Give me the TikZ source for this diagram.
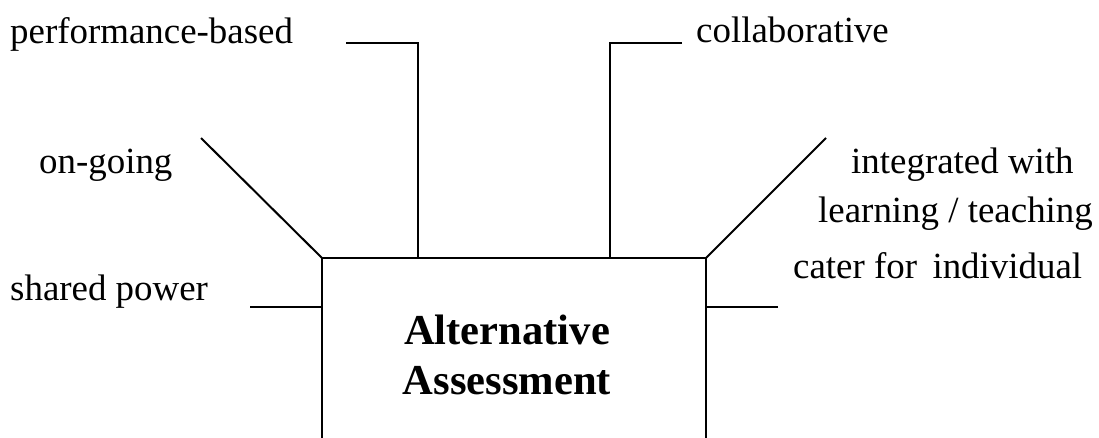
\documentclass[tikz,border=0pt]{standalone}
\usepackage{fontspec}
\setmainfont{Liberation Serif}
\begin{document}
\begin{tikzpicture}[x=1pt,y=-1pt,
  lbl/.style={anchor=base west,inner sep=0pt,font=\fontsize{36.9}{44}\selectfont},
  ttl/.style={anchor=base,inner sep=0pt,font=\fontsize{42.6}{50}\selectfont\bfseries},
  ln/.style={line width=2pt,line cap=butt,line join=miter}]
\useasboundingbox (0,0) rectangle (1099,437);
% box corners
\coordinate (bl) at (322,438);
\coordinate (tl) at (322,258);
\coordinate (tr) at (706,258);
\coordinate (br) at (706,438);
\draw[ln] (bl) -- (tl) -- (tr) -- (br);
% title
\node[ttl] (t1) at (507,344) {Alternative};
\node[ttl] (t2) at (507,394) {Assessment};
% labels
\node[lbl] (perf) at (10,43) {performance-based};
\node[lbl] (coll) at (696,42) {collaborative};
\node[lbl] (ongo) at (39,173) {on-going};
\node[lbl] (int1) at (851,173) {integrated with};
\node[lbl] (int2) at (818,222) {learning / teaching};
\node[lbl] (shar) at (10,300) {shared power};
\node[lbl] (cate) at (793,278) {cater for\, individual};
% connector points
\coordinate (p1) at (346,43);
\coordinate (p2) at (418,43);
\coordinate (p3) at (418,258);
\coordinate (c1) at (682,43);
\coordinate (c2) at (610,43);
\coordinate (c3) at (610,258);
\coordinate (o1) at (201,138);
\coordinate (i1) at (826,138);
\coordinate (s1) at (250,307);
\coordinate (s2) at (322,307);
\coordinate (r1) at (778,307);
\coordinate (r2) at (706,307);
\draw[ln] (p1) -- (p2) -- (p3);
\draw[ln] (c1) -- (c2) -- (c3);
\draw[ln] (o1) -- (tl);
\draw[ln] (i1) -- (tr);
\draw[ln] (s1) -- (s2);
\draw[ln] (r1) -- (r2);
\end{tikzpicture}
\end{document}
